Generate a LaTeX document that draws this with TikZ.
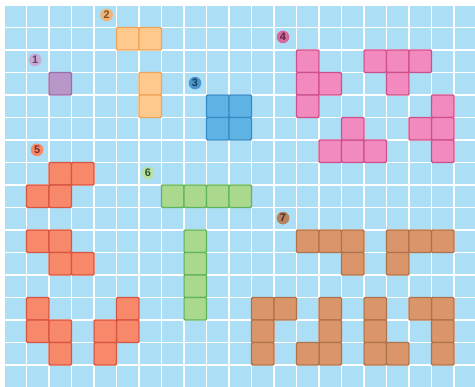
\documentclass[tikz,border=0pt]{standalone}
\usepackage{fontspec}
\setmainfont{Liberation Sans}
\definecolor{bgblue}{RGB}{172,222,246}
\definecolor{purF}{RGB}{185,150,200}\definecolor{purD}{RGB}{150,110,170}
\definecolor{oraF}{RGB}{255,200,140}\definecolor{oraD}{RGB}{238,165,90}
\definecolor{bluF}{RGB}{95,178,228}\definecolor{bluD}{RGB}{55,140,200}
\definecolor{pinF}{RGB}{242,138,192}\definecolor{pinD}{RGB}{205,80,140}
\definecolor{redF}{RGB}{248,136,106}\definecolor{redD}{RGB}{215,85,65}
\definecolor{grnF}{RGB}{170,216,140}\definecolor{grnD}{RGB}{95,180,95}
\definecolor{brnF}{RGB}{218,150,106}\definecolor{brnD}{RGB}{175,115,75}
\newcommand\putcells[2]{\foreach \c/\r in {#2} {\draw[#1] (\c,\r) rectangle ++(1,1);}}
\begin{document}
\begin{tikzpicture}[x=0.45cm,y=-0.45cm,
  cellbase/.style={line width=0.8pt,rounded corners=0.6pt},
  cpur/.style={cellbase,fill=purF,draw=purD},
  cora/.style={cellbase,fill=oraF,draw=oraD},
  cblu/.style={cellbase,fill=bluF,draw=bluD},
  cpin/.style={cellbase,fill=pinF,draw=pinD},
  cred/.style={cellbase,fill=redF,draw=redD},
  cgrn/.style={cellbase,fill=grnF,draw=grnD},
  cbrn/.style={cellbase,fill=brnF,draw=brnD},
  lab/.style={circle,inner sep=0pt,minimum size=7.2pt,font=\fontsize{6.2}{7}\selectfont\bfseries},
  gridline/.style={white,line width=1.1pt}]
\useasboundingbox (-0.1778,-0.2222) rectangle (20.9333,16.9778);
\clip (-0.1778,-0.2222) rectangle (20.9333,16.9778);
\fill[white] (-0.1778,-0.2222) rectangle (20.9333,16.9778);
\fill[bgblue] (0,0) rectangle (21.5,17.5);
\foreach \i in {0,...,21} {\draw[gridline] (\i,0) -- (\i,17.5);}
\foreach \j in {0,...,17} {\draw[gridline] (0,\j) -- (21.5,\j);}
% 1
\putcells{cpur}{2/3}
% 2
\putcells{cora}{5/1,6/1,6/3,6/4}
% 3
\putcells{cblu}{9/4,10/4,9/5,10/5}
% 4
\putcells{cpin}{13/2,13/3,13/4,14/3}
\putcells{cpin}{16/2,17/2,18/2,17/3}
\putcells{cpin}{14/6,15/6,16/6,15/5}
\putcells{cpin}{19/4,19/5,19/6,18/5}
% 5
\putcells{cred}{2/7,3/7,1/8,2/8}
\putcells{cred}{1/10,2/10,2/11,3/11}
\putcells{cred}{1/13,1/14,2/14,2/15}
\putcells{cred}{5/13,5/14,4/14,4/15}
% 6
\putcells{cgrn}{7/8,8/8,9/8,10/8}
\putcells{cgrn}{8/10,8/11,8/12,8/13}
% 7
\putcells{cbrn}{13/10,14/10,15/10,15/11}
\putcells{cbrn}{17/10,18/10,19/10,17/11}
\putcells{cbrn}{11/13,11/14,11/15,12/13}
\putcells{cbrn}{14/13,14/14,14/15,13/15}
\putcells{cbrn}{16/13,16/14,16/15,17/15}
\putcells{cbrn}{19/13,19/14,19/15,18/13}
% labels
\node[lab,fill=purF!80,text=purD!60!black] (l1) at (1.38,2.44) {1};
\node[lab,fill=oraD!85,text=oraD!50!black] (l2) at (4.56,0.44) {2};
\node[lab,fill=bluD!90,text=bluD!45!black] (l3) at (8.49,3.47) {3};
\node[lab,fill=pinD!85,text=pinD!45!black] (l4) at (12.4,1.42) {4};
\node[lab,fill=redF,text=redD!55!black] (l5) at (1.47,6.44) {5};
\node[lab,fill=grnF!80,text=grnD!45!black] (l6) at (6.4,7.47) {6};
\node[lab,fill=brnD!90,text=brnD!40!black] (l7) at (12.4,9.47) {7};
\end{tikzpicture}
\end{document}
